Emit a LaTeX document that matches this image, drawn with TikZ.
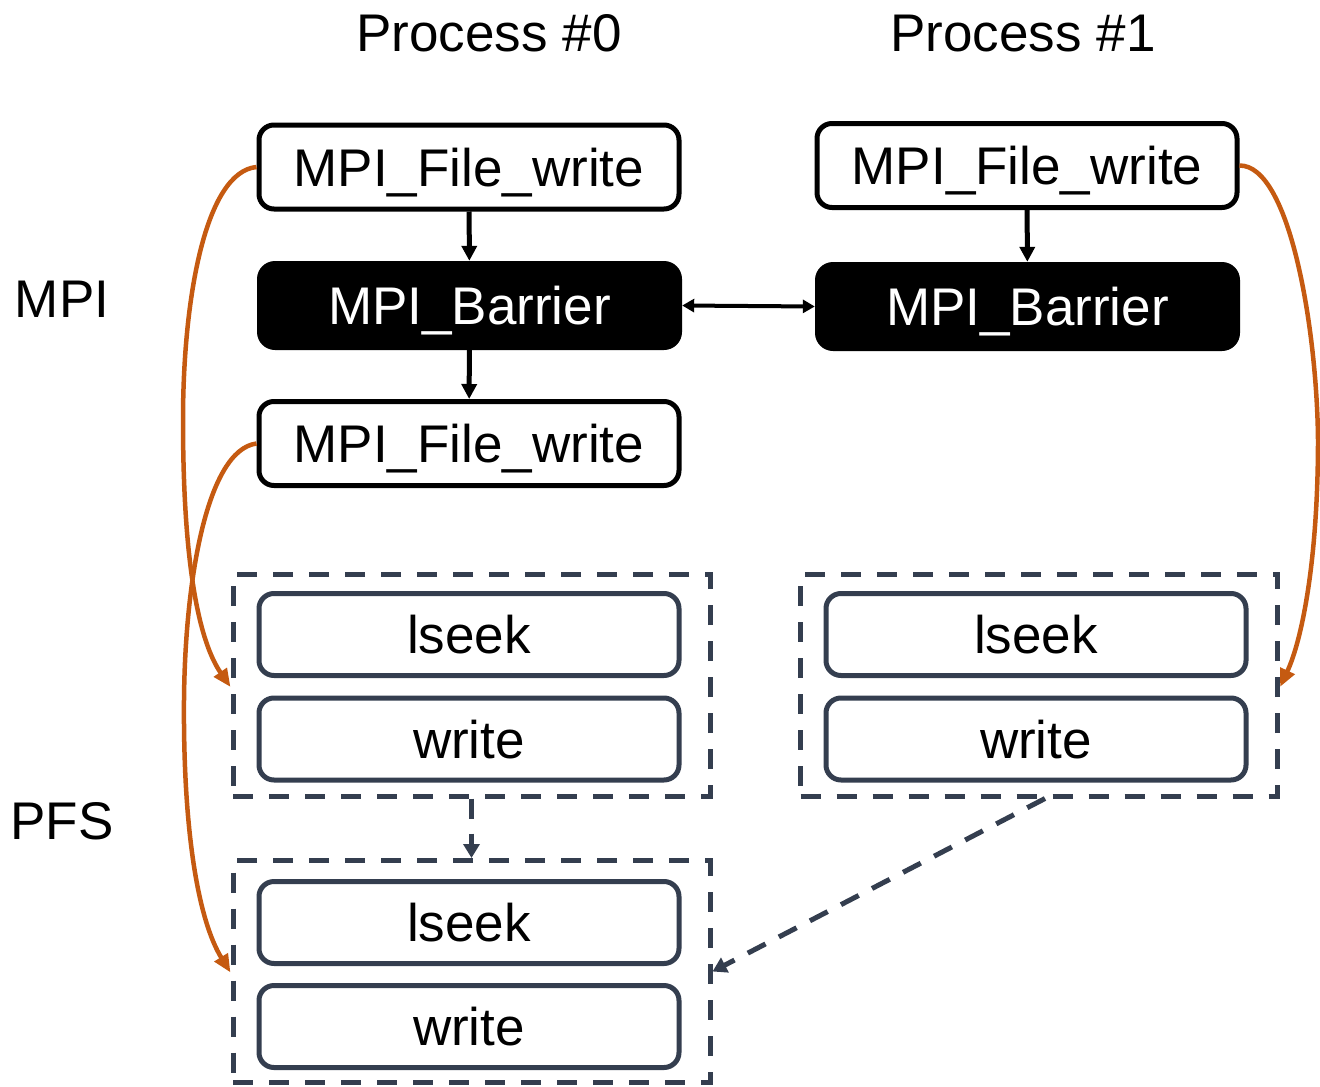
\documentclass[tikz,border=0pt]{standalone}
\usepackage{fontspec}
\setmainfont{Liberation Sans}
\usetikzlibrary{arrows.meta}
\definecolor{slate}{HTML}{343E4F}
\definecolor{rust}{HTML}{C55A11}
\begin{document}
\begin{tikzpicture}[x=1pt,y=-1pt,
  every node/.style={font=\fontsize{53}{60}\selectfont, inner sep=0pt,
    text height=38pt, text depth=0pt},
  callbox/.style={draw=black, line width=5pt, fill=white, rounded corners=15pt,
    minimum width=420pt, minimum height=84pt},
  barrierbox/.style={fill=black, text=white, rounded corners=18pt,
    minimum width=425pt, minimum height=89pt},
  sysbox/.style={draw=slate, line width=5pt, fill=white, rounded corners=15pt,
    minimum width=420pt, minimum height=82pt},
  groupbox/.style={draw=slate, line width=5pt, dash pattern=on 20pt off 16pt,
    minimum width=477pt, minimum height=222pt},
  flow/.style={line width=5pt, -{Triangle[length=15pt,width=15pt]}},
  sync/.style={line width=4pt, {Triangle[length=12pt,width=13pt]}-{Triangle[length=12pt,width=13pt]}},
  fsflow/.style={draw=slate, line width=5pt, dash pattern=on 20pt off 15pt,
    -{Triangle[length=14pt,width=16pt]}},
  callpath/.style={draw=rust, line width=4.5pt, -{Triangle[length=18pt,width=15pt]}}
]
\useasboundingbox (0,0) rectangle (1320,1087);

% column and layer labels
\node (title0) at (489,32) {Process \#0};
\node (title1) at (1023,32) {Process \#1};
\node (mpi) at (62,298) {MPI};
\node (pfs) at (62,820) {PFS};

% MPI layer
\node[callbox] (w0a) at (469,167) {MPI\_File\_write};
\node[barrierbox] (b0) at (469.5,305.5) {MPI\_Barrier};
\node[callbox] (w0b) at (469,443.5) {MPI\_File\_write};
\node[callbox] (w1) at (1027,165.5) {MPI\_File\_write};
\node[barrierbox] (b1) at (1027.5,306.5) {MPI\_Barrier};

% PFS layer
\node[groupbox] (g0a) at (471.5,685) {};
\node[sysbox] (s0a) at (469,634.5) {lseek};
\node[sysbox] (t0a) at (469,739) {write};
\node[groupbox] (g0b) at (471.5,971.5) {};
\node[sysbox] (s0b) at (469,922.5) {lseek};
\node[sysbox] (t0b) at (469,1026.5) {write};
\node[groupbox] (g1) at (1039,685) {};
\node[sysbox] (s1) at (1036,634.5) {lseek};
\node[sysbox] (t1) at (1036,739) {write};

% control flow
\draw[flow] (w0a) -- (b0);
\draw[flow] (b0) -- (w0b);
\draw[flow] (w1) -- (b1);
\draw[sync] (b0.east) -- (b1.west);

% file system ordering
\draw[fsflow] (g0a.south) -- (g0b.north);
\draw[fsflow] ([xshift=6pt]g1.south) -- (g0b.east);

% calls mapped to file system operations
\coordinate (l0a) at (183,420);
\coordinate (l0b) at (184,700);
\coordinate (r1) at (1318,440);
\draw[callpath] (w0a.west) .. controls (205,172) and (183,300) .. (l0a)
  .. controls (183,560) and (198,640) .. ([yshift=-2pt]g0a.west);
\draw[callpath] (w0b.west) .. controls (207,450) and (185,580) .. (l0b)
  .. controls (183,830) and (198,920) .. ([yshift=-1pt]g0b.west);
\draw[callpath] (w1.east) .. controls (1290,165) and (1317,330) .. (r1)
  .. controls (1318,560) and (1302,640) .. ([yshift=-2pt]g1.east);
\end{tikzpicture}
\end{document}
